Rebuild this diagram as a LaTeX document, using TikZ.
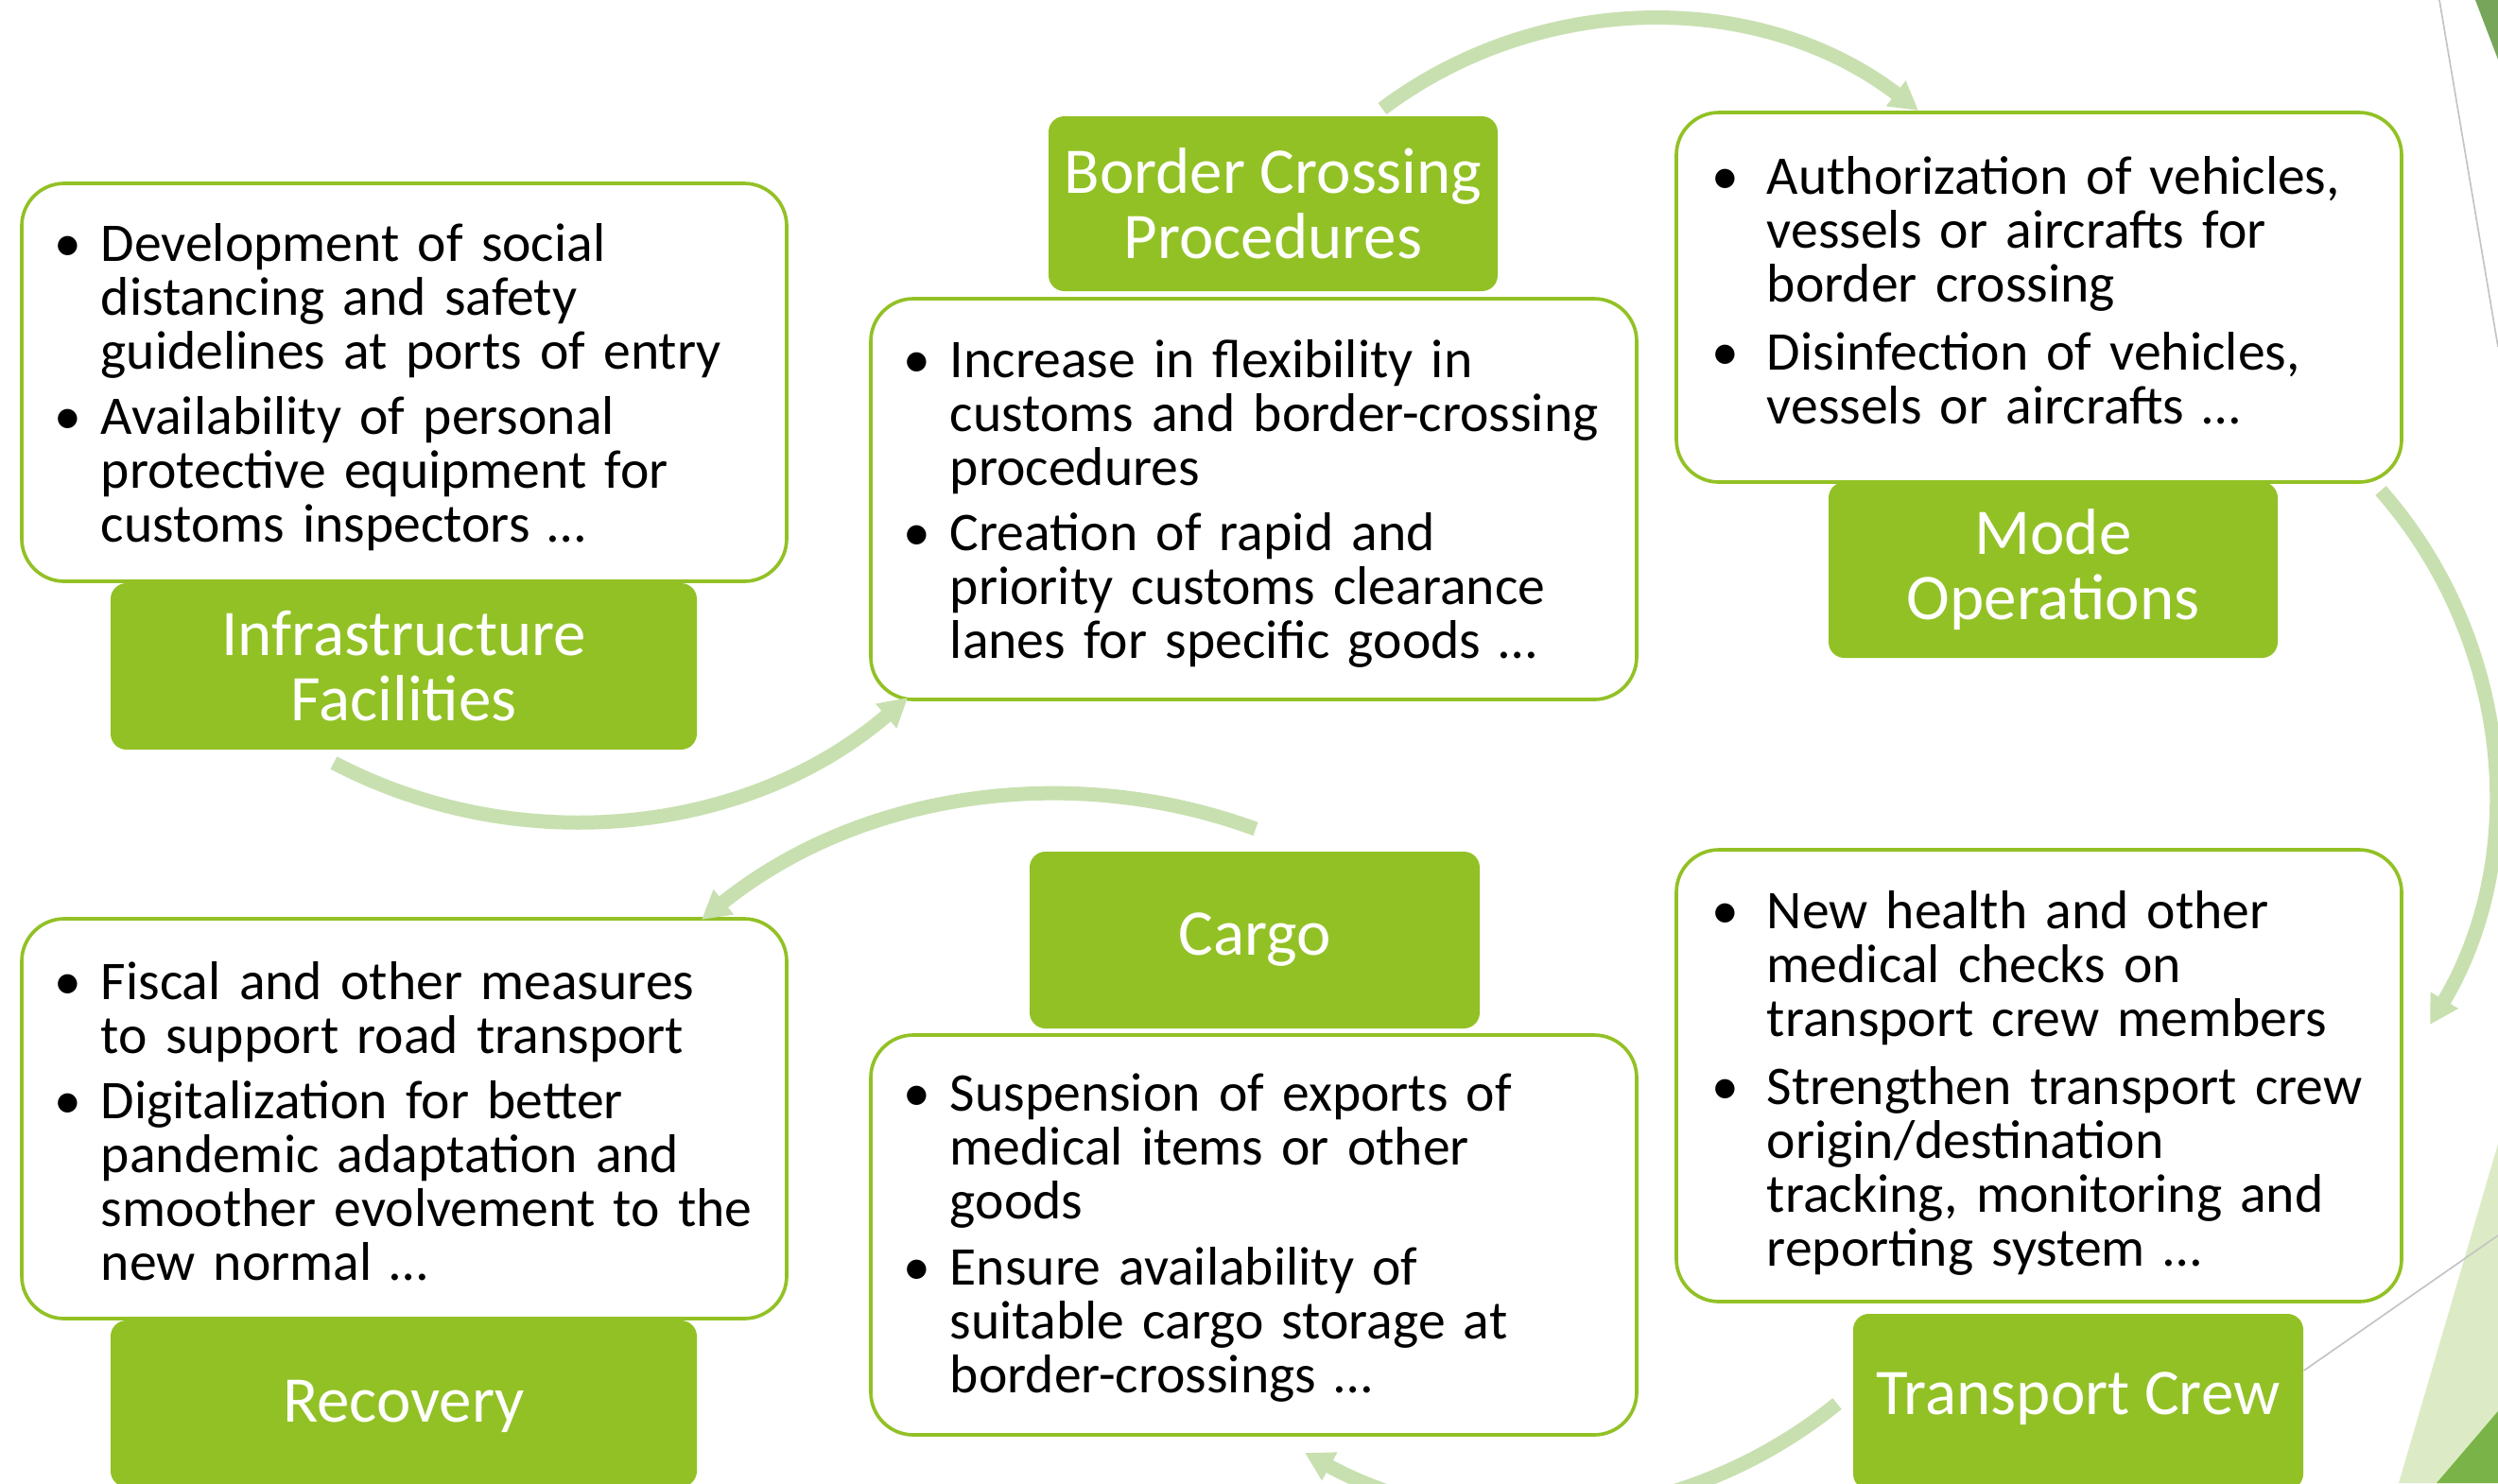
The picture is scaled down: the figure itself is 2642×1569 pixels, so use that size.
\documentclass[tikz,border=0pt]{standalone}
\usepackage{fontspec}
\setmainfont{Carlito}
\usetikzlibrary{arrows.meta,fit}
\definecolor{lab}{HTML}{92C125}
\definecolor{brd}{HTML}{92C125}
\definecolor{arr}{HTML}{C8E0B0}
\definecolor{dkg}{HTML}{77A65B}
\definecolor{dkgb}{HTML}{7AB448}
\definecolor{ltg}{HTML}{DCEBC5}
\definecolor{gry}{HTML}{C4C4C4}
\newcommand{\bul}[1][6.3pt]{\leavevmode\llap{\textbullet\hspace{#1}}}
\newcommand{\igap}{\par\vspace{3.8pt}}
\begin{document}
\begin{tikzpicture}[x=0.3pt,y=-0.3pt,
  wbox/.style={draw=brd,line width=1.1pt,fill=white,rounded corners=13.5pt,inner sep=0pt},
  gbox/.style={fill=lab,rounded corners=5pt,inner sep=0pt},
  gtext/.style={text=white,align=center,inner sep=0pt,font=\fontsize{20.7}{20.7}\selectfont},
  btext/.style={anchor=west,inner sep=0pt,text width=218pt,align=left,font=\fontsize{17.3}{17.1}\selectfont},
  flow/.style={draw=arr,line width=4.5pt,-{Triangle[width=9.6pt,length=9pt]}},
  deco/.style={draw=gry,line width=0.5pt}]
\useasboundingbox (0,0) rectangle (2642,1569);
\fill[white] (0,0) rectangle (2642,1569);

% decorations on the right
\fill[ltg] (2642,1210) -- (2537,1569) -- (2642,1569) -- cycle;
\fill[dkgb] (2642,1493) -- (2577,1569) -- (2642,1569) -- cycle;
\fill[dkg] (2618,0) -- (2642,0) -- (2642,63) -- cycle;
\draw[deco] (2580,0) -- (2642,367);

% white boxes
\node[wbox,fit={(23,194)(832,615)}] (infraW) {};
\node[wbox,fit={(921,316)(1731,740)}] (bcW) {};
\node[wbox,fit={(1773,119)(2540,510)}] (modeW) {};
\node[wbox,fit={(23,972)(832,1395)}] (recW) {};
\node[wbox,fit={(921,1095)(1731,1518)}] (cargoW) {};
\node[wbox,fit={(1773,899)(2540,1377)}] (tcW) {};

% green labels
\node[gbox,fit={(117,617)(737,793)}] (infraG) {};
\node[gbox,fit={(1109,123)(1584,308)}] (bcG) {};
\node[gbox,fit={(1934,510)(2409,696)}] (modeG) {};
\node[gbox,fit={(117,1397)(737,1573)}] (recG) {};
\node[gbox,fit={(1089,901)(1565,1088)}] (cargoG) {};
\node[gbox,fit={(1960,1390)(2436,1576)}] (tcG) {};

\draw[deco] (tcG.east |- 0,1450) -- (2642,1307);

\node[gtext] (infraT) at (infraG.center) {Infrastructure\\Facilities};
\node[gtext] (bcT) at (bcG.center) {Border Crossing\\Procedures};
\node[gtext] (modeT) at (modeG.center) {Mode\\Operations};
\node[gtext,yshift=-1pt] (recT) at (recG.center) {Recovery};
\node[gtext] (cargoT) at (cargoG.center) {Cargo};
\node[gtext,yshift=1pt] (tcT) at (tcG.center) {Transport Crew};

% bullet texts
\node[btext,yshift=-1.5pt] (infraB) at ([xshift=25.5pt]infraW.west) {%
\bul Development of social\\distancing and safety\\guidelines at ports of entry\igap
\bul Availability of personal\\protective equipment for\\customs inspectors …};
\node[btext,yshift=-1.5pt] (bcB) at ([xshift=25.5pt]bcW.west) {%
\bul Increase in flexibility in\\customs and border-crossing\\procedures\igap
\bul Creation of rapid and\\priority customs clearance\\lanes for specific goods …};
\node[btext,yshift=2.2pt] (modeB) at ([xshift=29.1pt]modeW.west) {%
\bul[9pt]Authorization of vehicles,\\vessels or aircrafts for\\border crossing\par\vspace{4.5pt}
\bul[9pt]Disinfection of vehicles,\\vessels or aircrafts …};
\node[btext,yshift=-0.8pt] (recB) at ([xshift=25.5pt]recW.west) {%
\bul Fiscal and other measures\\to support road transport\igap
\bul Digitalization for better\\pandemic adaptation and\\smoother evolvement to the\\new normal …};
\node[btext,yshift=-1pt] (cargoB) at ([xshift=25.5pt]cargoW.west) {%
\bul Suspension of exports of\\medical items or other\\goods\igap
\bul Ensure availability of\\suitable cargo storage at\\border-crossings …};
\node[btext,yshift=-2.3pt] (tcB) at ([xshift=29.1pt]tcW.west) {%
\bul[9pt]New health and other\\medical checks on\\transport crew members\par\vspace{4.5pt}
\bul[9pt]Strengthen transport crew\\origin/destination\\tracking, monitoring and\\reporting system …};

% cycle arrows
\coordinate (a1s) at (353,807);  \coordinate (a1e) at (960,738);
\coordinate (a2s) at (1462,115); \coordinate (a2e) at (2029,117);
\coordinate (a3s) at (2518,519); \coordinate (a3e) at (2570,1084);
\coordinate (a4s) at (1943,1485);\coordinate (a4e) at (1380,1537);
\coordinate (a5s) at (1328,877); \coordinate (a5e) at (742,973);
\draw[flow] (a1s) .. controls (550,910) and (791,883) .. (a1e);
\draw[flow] (a2s) .. controls (1630,-11) and (1862,-11) .. (a2e);
\draw[flow] (a3s) .. controls (2656,676) and (2677,904) .. (a3e);
\draw[flow] (a4s) .. controls (1783,1615) and (1561,1636) .. (a4e);
\draw[flow] (a5s) .. controls (1129,804) and (907,840) .. (a5e);
\end{tikzpicture}
\end{document}
